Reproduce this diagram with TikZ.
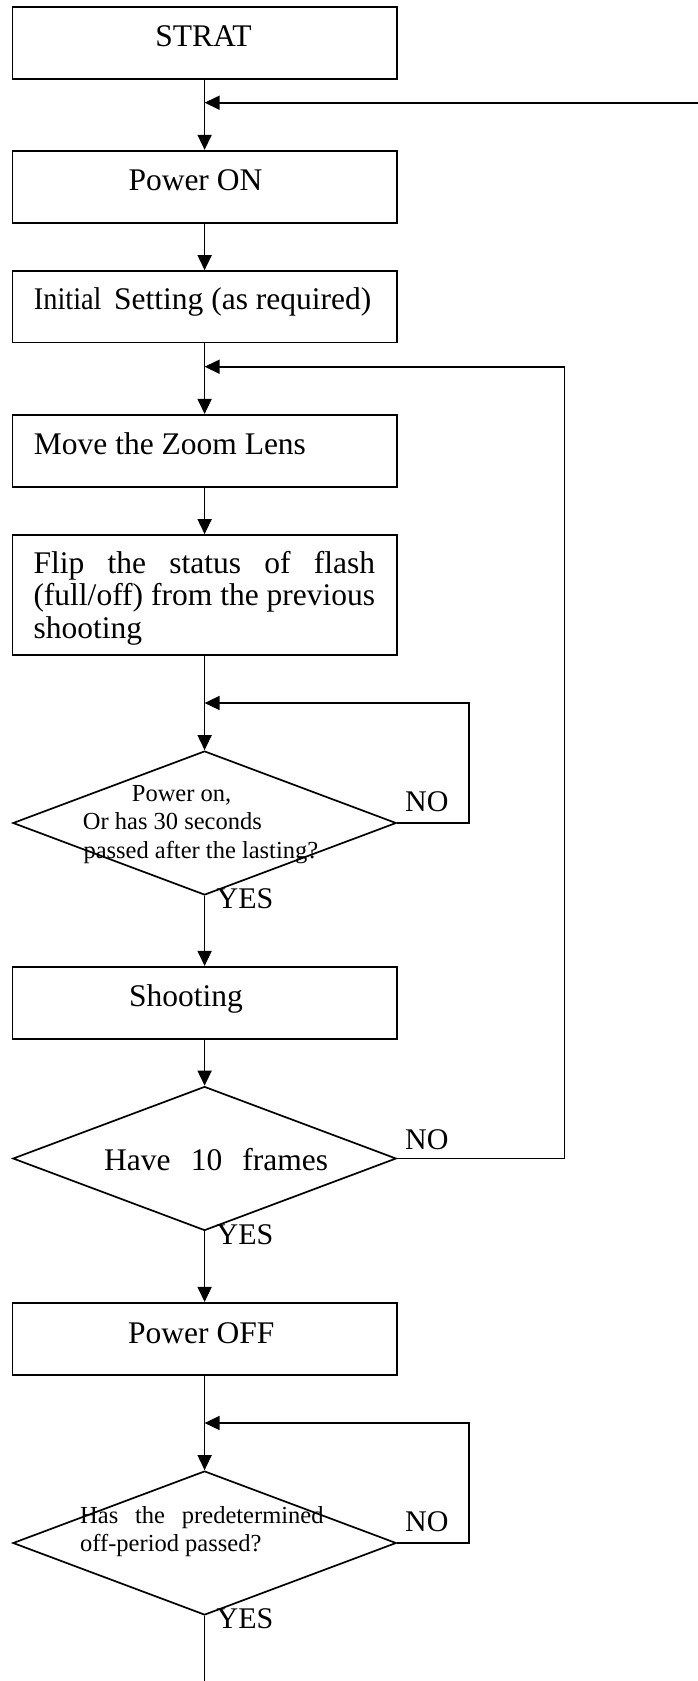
\documentclass[tikz,border=0pt]{standalone}
\usepackage{fontspec}
\setmainfont{Liberation Serif}
\usetikzlibrary{arrows.meta,shapes.geometric}
\begin{document}
\begin{tikzpicture}[x=1pt,y=-1pt,
  box/.style={draw,fill=white,line width=1.7pt,minimum width=384.4pt,minimum height=72pt,inner sep=0pt},
  dia/.style={draw,fill=white,diamond,line width=1.7pt,minimum width=383.4pt,minimum height=144pt,inner sep=0pt,aspect=2.66},
  flow/.style={line width=1.6pt,-{Triangle[length=15pt,width=14pt]}},
  plain/.style={line width=1.6pt},
  btext/.style={font=\fontsize{31.5}{36}\selectfont,anchor=base west,inner sep=0pt},
  dtext/.style={font=\fontsize{24.5}{28}\selectfont,anchor=base west,inner sep=0pt},
  lbl/.style={font=\fontsize{30}{34}\selectfont,anchor=base west,inner sep=0pt}]
\useasboundingbox (0,0) rectangle (698,1681);
\fill[white] (0,0) rectangle (698,1681);
% boxes
\node[box] (start) at (204.6,42.7) {};
\node[box] (pon) at (204.6,186.7) {};
\node[box,minimum height=71.3pt] (init) at (204.6,306.7) {};
\node[box] (move) at (204.6,450.8) {};
\node[box,minimum height=120pt] (flip) at (204.6,595) {};
\node[dia] (d1) at (204.6,823) {};
\node[box] (shoot) at (204.6,1002.8) {};
\node[dia] (d2) at (204.6,1158.5) {};
\node[box] (poff) at (204.6,1338.8) {};
\node[dia] (d3) at (204.6,1543) {};
% texts
\node[btext,anchor=base] (tstart) at (203.5,46.7) {STRAT};
\node[btext] (tpon) at (128.3,190.7) {Power ON};
\node[btext] (tinita) at (33.7,309.3) {\scalebox{0.9}[1]{Initial}};
\node[btext] (tinitb) at (114,309.3) {Setting (as required)};
\node[btext] (tmove) at (33.7,454) {Move the Zoom Lens};
\node[btext] (tflipa) at (33.3,573.3) {\makebox[341.7pt][s]{Flip the status of flash}};
\node[btext] (tflipb) at (33.3,605.7) {\makebox[341.7pt][s]{(full/off) from the previous}};
\node[btext] (tflipc) at (33.3,638.2) {shooting};
\node[dtext] (td1a) at (131.7,801.7) {Power on,};
\node[dtext] (td1b) at (82.7,829.5) {Or has 30 seconds};
\node[dtext] (td1c) at (83.3,858.3) {passed after the lasting?};
\node[btext] (tshoot) at (129,1006.5) {Shooting};
\node[btext] (td2) at (104,1170.7) {\makebox[224pt][s]{Have 10 frames}};
\node[btext] (tpoff) at (128,1343.3) {Power OFF};
\node[dtext] (td3a) at (80,1523.3) {\makebox[243.3pt][s]{Has the predetermined}};
\node[dtext] (td3b) at (80,1551.7) {off-period passed?};
% labels
\node[lbl] (no1) at (405,811.7) {NO};
\node[lbl] (yes1) at (216.5,908.2) {YES};
\node[lbl] (no2) at (405,1149) {NO};
\node[lbl] (yes2) at (216.5,1244.5) {YES};
\node[lbl] (no3) at (405,1531.7) {NO};
\node[lbl] (yes3) at (216.5,1628) {YES};
% junction coordinates
\coordinate (in0) at (698,102.7);
\coordinate (j0) at (204.6,102.7);
\coordinate (k2) at (564.5,366.7);
\coordinate (j2) at (204.6,366.7);
\coordinate (k1) at (469,703);
\coordinate (j1) at (204.6,703);
\coordinate (k3) at (469,1423);
\coordinate (j3) at (204.6,1423);
\coordinate (out) at (204.6,1681);
% main flow
\draw[flow] (start.south) -- (pon.north);
\draw[flow] (pon.south) -- (init.north);
\draw[flow] (init.south) -- (move.north);
\draw[flow] (move.south) -- (flip.north);
\draw[flow] (flip.south) -- (d1.north);
\draw[flow] (d1.south) -- (shoot.north);
\draw[flow] (shoot.south) -- (d2.north);
\draw[flow] (d2.south) -- (poff.north);
\draw[flow] (poff.south) -- (d3.north);
\draw[plain] (d3.south) -- (out);
% loops
\draw[flow] (in0) -- (j0);
\draw[flow] (d1.east) -| (k1) -- (j1);
\draw[flow] (d2.east) -| (k2) -- (j2);
\draw[flow] (d3.east) -| (k3) -- (j3);
\end{tikzpicture}
\end{document}
